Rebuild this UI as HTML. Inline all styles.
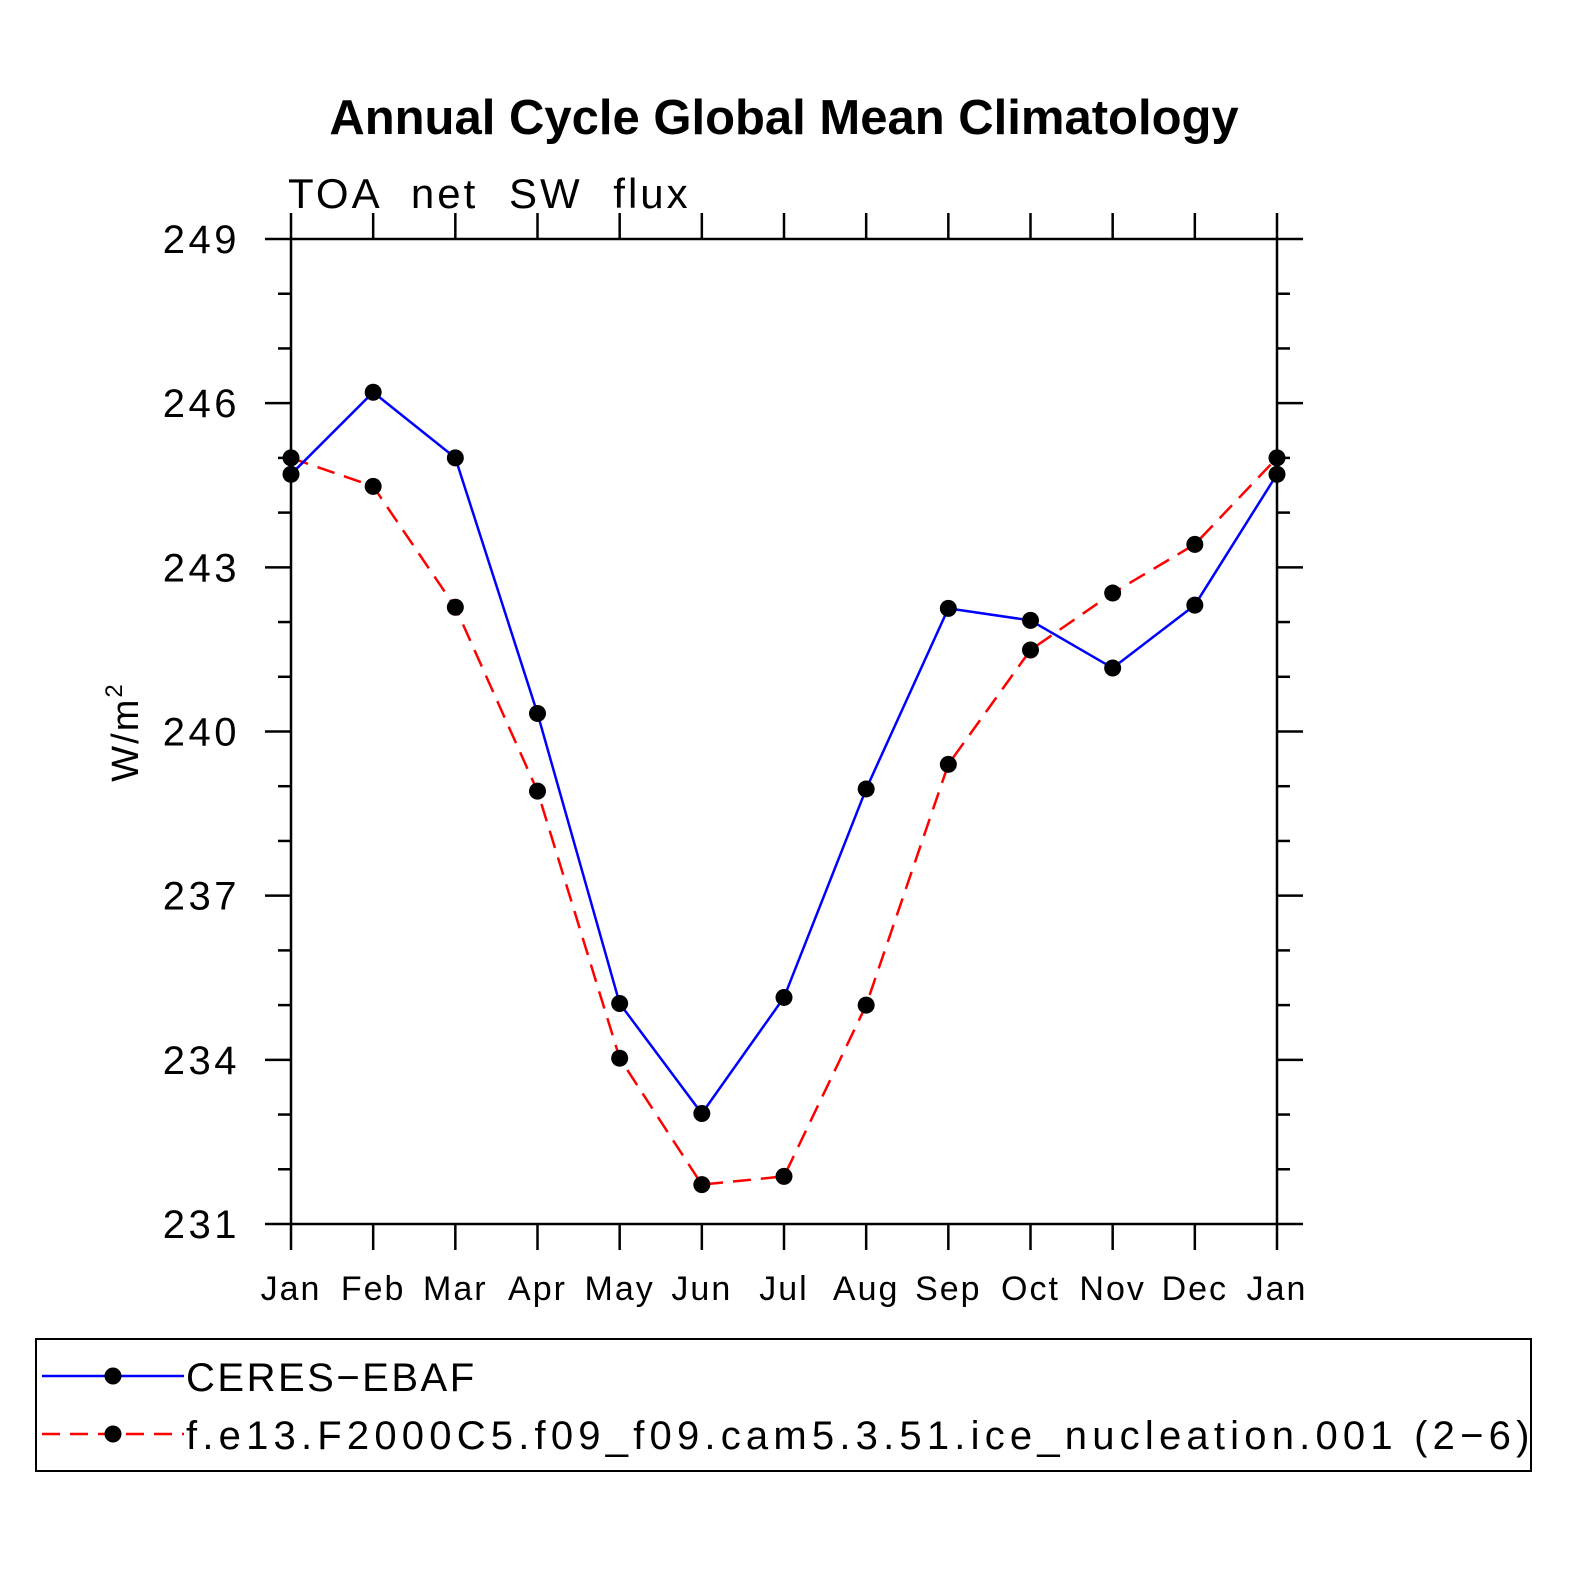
<!DOCTYPE html>
<html><head><meta charset="utf-8"><style>
body{margin:0;background:#fff}
svg{display:block}
text{font-family:"Liberation Sans",sans-serif}
</style></head><body>
<svg id="chart" width="1574" height="1574" viewBox="0 0 1574 1574">
<text x="784" y="134" font-size="49" font-weight="bold" text-anchor="middle">Annual Cycle Global Mean Climatology</text>
<text x="288" y="208" font-size="42" font-weight="300" letter-spacing="3" word-spacing="16">TOA net SW flux</text>
<text transform="translate(138,732) rotate(-90)" font-size="38" text-anchor="middle" letter-spacing="2">W/m<tspan dy="-16" font-size="24">2</tspan></text>
<g id="axes"></g>
<g id="series"></g>
<rect x="36" y="1339" width="1495" height="132" fill="none" stroke="#000" stroke-width="2"/>
<g>
<line x1="42" y1="1376" x2="184" y2="1376" stroke="#00f" stroke-width="2.5"/>
<circle cx="113" cy="1376" r="8.5"/>
<text x="186" y="1391" font-size="40" letter-spacing="2.5">CERES−EBAF</text></g>
<g>
<line x1="42" y1="1434" x2="184" y2="1434" stroke="#f00" stroke-width="2.5" stroke-dasharray="18,10"/>
<circle cx="113" cy="1434" r="8.5"/>
<text x="186" y="1449" font-size="40" letter-spacing="5.2">f.e13.F2000C5.f09_f09.cam5.3.51.ice_nucleation.001 (2−6)</text></g>
</svg>
<script>
const months=["Jan","Feb","Mar","Apr","May","Jun","Jul","Aug","Sep","Oct","Nov","Dec","Jan"];
const ceres=[244.7,246.2,245.0,240.33,235.03,233.02,235.14,238.95,242.25,242.03,241.16,242.31,244.7];
const model=[245.0,244.48,242.27,238.91,234.03,231.72,231.87,235.0,239.4,241.49,242.53,243.42,245.0];
const yTicks=[231,234,237,240,243,246,249];
const NS="http://www.w3.org/2000/svg";
const X0=291,X1=1277,Y0=1224,Y1=239,YMIN=231,YMAX=249;
const xs=i=>X0+(X1-X0)*i/(months.length-1);
const ys=v=>Y0-(v-YMIN)/(YMAX-YMIN)*(Y0-Y1);
function mk(tag,attrs,parent){const e=document.createElementNS(NS,tag);for(const k in attrs)e.setAttribute(k,attrs[k]);parent.appendChild(e);return e;}
const ax=document.getElementById('axes');
const frame=mk('rect',{x:X0,y:Y1,width:X1-X0,height:Y0-Y1,fill:'none',stroke:'#000','stroke-width':2.5},ax);


months.forEach((m,i)=>{
 const x=xs(i);
 mk('line',{x1:x,y1:Y0,x2:x,y2:Y0+26,stroke:'#000','stroke-width':2.5},ax);
 mk('line',{x1:x,y1:Y1,x2:x,y2:Y1-26,stroke:'#000','stroke-width':2.5},ax);
 const t=mk('text',{x:x,y:1300,'font-size':34,'text-anchor':'middle','letter-spacing':2},ax);
 t.textContent=m;
 
 
});
for(let v=YMIN;v<=YMAX;v+=1){
 const y=ys(v),major=yTicks.includes(v);
 const L=major?26:13;
 mk('line',{x1:X0-L,y1:y,x2:X0,y2:y,stroke:'#000','stroke-width':2.5},ax);
 mk('line',{x1:X1,y1:y,x2:X1+L,y2:y,stroke:'#000','stroke-width':2.5},ax);
}
yTicks.forEach(v=>{
 const t=mk('text',{x:240,y:ys(v)+14,'font-size':40,'text-anchor':'end','letter-spacing':3.5},ax);
 t.textContent=v;
 
 
});
const sg=document.getElementById('series');
function draw(data,color,dash,name){
 const g=mk('g',{},sg);
 
 
 const pts=data.map((v,i)=>xs(i)+','+ys(v)).join(' ');
 const p={points:pts,fill:'none',stroke:color,'stroke-width':2.5};
 if(dash)p['stroke-dasharray']=dash;
 mk('polyline',p,g);
 data.forEach((v,i)=>{
  const c=mk('circle',{cx:xs(i),cy:ys(v),r:8.5,fill:'#000'},g);
  
  
 });
}
draw(model,'#f00','18,10','model-series');
draw(ceres,'#00f',null,'ceres-series');
</script>
</body></html>
